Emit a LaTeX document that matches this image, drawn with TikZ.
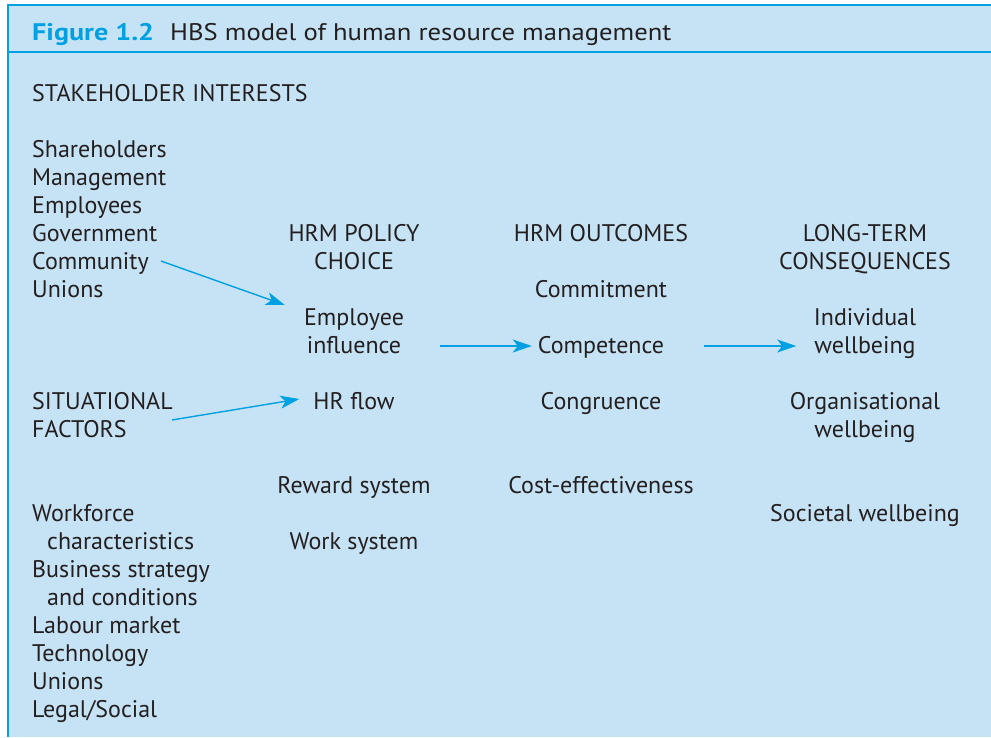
\documentclass[tikz,border=0pt]{standalone}
\usepackage{fontspec}
\setmainfont{PT Sans}
\usetikzlibrary{arrows.meta}
\definecolor{bgblue}{HTML}{C6E3F5}
\definecolor{lineblue}{HTML}{00A0E3}
\definecolor{txt}{HTML}{231F20}
\tikzset{
  lbl/.style={anchor=base west,inner sep=0pt,text=txt,font=\fontsize{24}{28}\selectfont},
  clbl/.style={anchor=base,inner sep=0pt,text=txt,font=\fontsize{24}{28}\selectfont},
  arr/.style={draw=lineblue,line width=1.4pt,-{Stealth[length=19pt,width=13pt,inset=5pt]}}
}
\begin{document}
\begin{tikzpicture}[x=1pt,y=-1pt]
\useasboundingbox (0,0) rectangle (991,737);
\fill[bgblue] (8,4) rectangle (991,737);
\draw[lineblue,line width=2pt] (991,4.5) -- (8,4.5) -- (8,737);
\draw[lineblue,line width=2pt] (8,52) -- (991,52);
\node[lbl,font=\bfseries\fontsize{24}{28}\selectfont,text=lineblue] (fig) at (32,40) {\scalebox{1.17}[1]{Figure 1.2}};
\node[lbl] (title) at (170,40) {\scalebox{1.11}[1]{HBS model of human resource management}};
\node[lbl] (stake) at (32,101) {STAKEHOLDER INTERESTS};
\node[lbl] (s1) at (32,157) {Shareholders};
\node[lbl] (s2) at (32,185) {Management};
\node[lbl] (s3) at (32,213) {Employees};
\node[lbl] (s4) at (32,241) {Government};
\node[lbl] (s5) at (32,269) {Community};
\node[lbl] (s6) at (32,297) {Unions};
\node[lbl] (sit1) at (32,409) {SITUATIONAL};
\node[lbl] (sit2) at (32,437) {FACTORS};
\node[lbl] (f1) at (32,521) {Workforce};
\node[lbl] (f1b) at (47,549) {characteristics};
\node[lbl] (f2) at (32,577) {Business strategy};
\node[lbl] (f2b) at (47,605) {and conditions};
\node[lbl] (f3) at (32,633) {Labour market};
\node[lbl] (f4) at (32,661) {Technology};
\node[lbl] (f5) at (32,689) {Unions};
\node[lbl] (f6) at (32,717) {Legal/Social};
% column 2
\node[clbl] (p1) at (354,241) {HRM POLICY};
\node[clbl] (p1b) at (354,269) {CHOICE};
\node[clbl] (p2) at (354,325) {Employee};
\node[clbl] (p2b) at (354,353) {influence};
\node[clbl] (p3) at (354,409) {HR flow};
\node[clbl] (p4) at (354,493) {Reward system};
\node[clbl] (p5) at (354,549) {Work system};
% column 3
\node[clbl] (o1) at (601,241) {HRM OUTCOMES};
\node[clbl] (o2) at (601,297) {Commitment};
\node[clbl] (o3) at (601,353) {Competence};
\node[clbl] (o4) at (601,409) {Congruence};
\node[clbl] (o5) at (601,493) {Cost-effectiveness};
% column 4
\node[clbl] (c1) at (865,241) {LONG-TERM};
\node[clbl] (c1b) at (865,269) {CONSEQUENCES};
\node[clbl] (c2) at (865,325) {Individual};
\node[clbl] (c2b) at (865,353) {wellbeing};
\node[clbl] (c3) at (865,409) {Organisational};
\node[clbl] (c3b) at (865,437) {wellbeing};
\node[clbl] (c4) at (865,521) {Societal wellbeing};
% arrows
\draw[arr] ([xshift=12pt,yshift=8pt]s5.base east) -- ([xshift=-19pt,yshift=20pt]p2.base west);
\draw[arr] ([xshift=45pt,yshift=17pt]sit2.base east) -- ([xshift=-14pt,yshift=10pt]p3.base west);
\draw[arr] ([xshift=39pt,yshift=7pt]p2b.base east) -- ([xshift=-6pt,yshift=7pt]o3.base west);
\draw[arr] ([xshift=40pt,yshift=7pt]o3.base east) -- ([xshift=-18pt,yshift=7pt]c2b.base west);
\end{tikzpicture}
\end{document}
